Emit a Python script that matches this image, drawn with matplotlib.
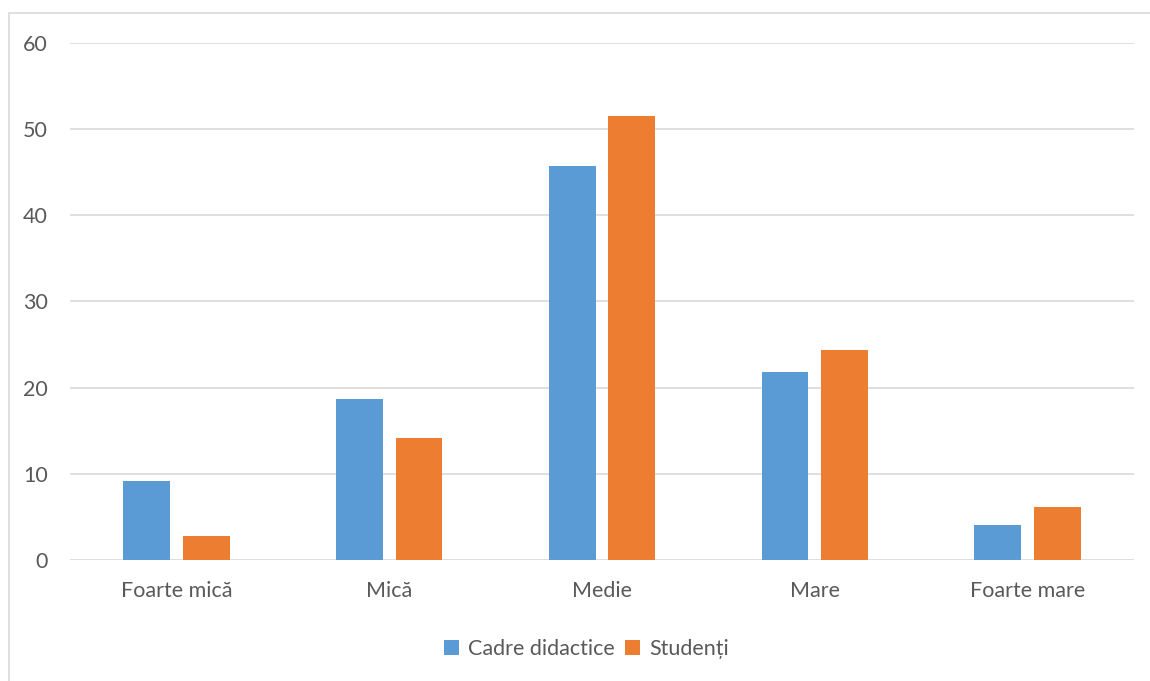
import numpy as np
import matplotlib
matplotlib.use("Agg")
import matplotlib.pyplot as plt
from matplotlib.patches import Rectangle

categories = ["Foarte mică", "Mică", "Medie", "Mare", "Foarte mare"]
cadre = [9.2, 18.7, 45.7, 21.8, 4.1]
studenti = [2.8, 14.2, 51.5, 24.4, 6.1]
series_names = ["Cadre didactice", "Studenți"]
yticks = [0, 10, 20, 30, 40, 50, 60]

BLUE = "#5b9bd5"
ORANGE = "#ed7d31"
TXT = "#595959"
GRID = "#d9d9d9"

plt.rcParams["font.family"] = ["Lato", "DejaVu Sans"]

fig = plt.figure(figsize=(11.5, 6.81), dpi=100)
ax = fig.add_axes([0.0609, 0.1777, 0.9252, 0.7592])

x = np.arange(len(categories))
w = 0.22
ax.bar(x - 0.14, cadre, w, color=BLUE, label=series_names[0], zorder=3)
ax.bar(x + 0.14, studenti, w, color=ORANGE, label=series_names[1], zorder=3)

ax.set_xlim(-0.5, len(categories) - 0.5)
ax.set_ylim(0, 60)
ax.set_yticks(yticks)
ax.yaxis.grid(True, color=GRID, linewidth=1.2, zorder=0)
ax.set_axisbelow(True)
for s in ax.spines.values():
    s.set_visible(False)
ax.tick_params(axis="both", length=0, labelsize=15.5, labelcolor=TXT)
ax.tick_params(axis="y", pad=16)
ax.tick_params(axis="x", pad=15)
ax.set_xticks(x)
ax.set_xticklabels(categories)

leg = fig.legend(loc="center", bbox_to_anchor=(0.51, 0.047), ncol=2, frameon=False,
                 fontsize=15.5, handlelength=0.7, handleheight=0.7, handletextpad=0.4,
                 columnspacing=0.5)
for t in leg.get_texts():
    t.set_color(TXT)

# thin outer chart frame
fig.patches.append(Rectangle((9 / 1150, -0.05), 1.2, 1 - 13 / 681 + 0.05,
                             transform=fig.transFigure, fill=False,
                             edgecolor=GRID, linewidth=1.2))

fig.savefig("out.png", dpi=100)
